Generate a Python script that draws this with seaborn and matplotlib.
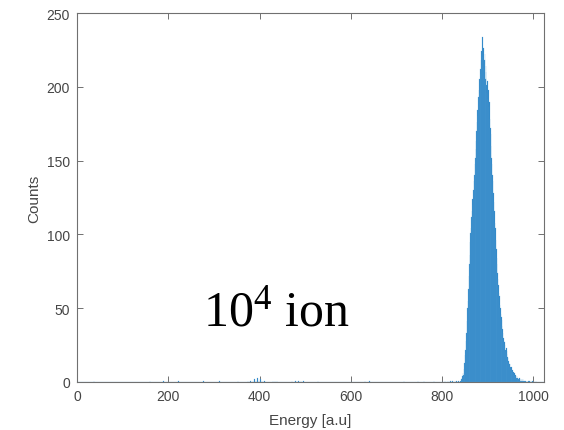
import numpy as np
import pandas as pd
import matplotlib
matplotlib.use("Agg")
import matplotlib.pyplot as plt
import seaborn as sns

# Main peak: counts per 1-unit energy bin, starting at energy 840
peak_start = 840
peak_counts = [
    1, 0, 2, 3, 4, 6, 5, 9, 13, 12,
    18, 22, 28, 33, 41, 50, 55, 63, 72, 80,
    86, 95, 101, 104, 112, 116, 124, 120, 130, 136,
    140, 148, 152, 163, 158, 170, 176, 184, 180, 193,
    198, 205, 196, 212, 218, 209, 224, 215, 234, 220,
    226, 212, 218, 222, 205, 214, 210, 201, 196, 204,
    192, 198, 186, 190, 178, 172, 168, 160, 152, 148,
    140, 136, 128, 122, 116, 108, 104, 96, 90, 84,
    80, 74, 70, 66, 60, 58, 52, 50, 46, 44,
    42, 38, 36, 33, 30, 28, 27, 25, 22, 21,
    23, 21, 19, 17, 16, 14, 13, 12, 12, 10,
    9, 10, 8, 7, 8, 6, 7, 5, 6, 4,
    5, 4, 3, 4, 3, 2, 3, 2, 2, 3,
    2, 1, 2, 1, 2, 1, 1, 2, 1, 1,
    1, 0, 1, 1, 0, 1, 0, 1, 0, 1,
    0, 1, 0, 0, 1, 0, 0, 1, 0, 0,
    0, 1, 0, 0, 0, 1, 0, 0, 0, 0,
]

# Sparse low-energy background events (energy bin, count)
bg_energy = [37, 160, 189, 222, 277, 312, 352, 374, 380, 385, 388, 392, 395,
             398, 402, 405, 410, 429, 433, 438, 470, 478, 485, 490, 496, 527,
             630, 640, 716, 747, 760, 782, 806, 812, 818, 822, 827, 831, 835]
bg_counts = [1, 1, 1, 1, 1, 1, 1, 1, 1, 1, 2, 1, 3,
             1, 2, 1, 1, 1, 1, 1, 1, 1, 1, 1, 1, 1,
             1, 1, 1, 1, 1, 1, 1, 1, 1, 1, 1, 1, 1]

x_ticks = [0, 200, 400, 600, 800, 1000]
y_ticks = [0, 50, 100, 150, 200, 250]

peak_energy = list(range(peak_start, peak_start + len(peak_counts)))
df = pd.DataFrame({
    "energy": [e + 0.5 for e in bg_energy + peak_energy],
    "counts": bg_counts + peak_counts,
})

sns.set_style("white")
plt.rcParams["font.family"] = ["Liberation Sans", "DejaVu Sans"]
plt.rcParams["mathtext.fontset"] = "custom"
plt.rcParams["mathtext.rm"] = "Liberation Serif"

fig = plt.figure(figsize=(5.64, 4.31), dpi=100)
ax = fig.add_axes([0.1365, 0.1114, 0.8280, 0.8561])

sns.histplot(data=df, x="energy", weights="counts", binwidth=1, binrange=(0, 1024),
             color="#2a84c6", alpha=1.0, linewidth=0.15, edgecolor="#5aa2d8", ax=ax)

ax.set_xlim(0, 1023)
ax.set_ylim(0, 250)
ax.set_xticks(x_ticks)
ax.set_yticks(y_ticks)
ax.set_xlabel("Energy [a.u]", fontsize=11, color="#454545", labelpad=7)
ax.set_ylabel("Counts", fontsize=11, color="#454545", labelpad=4)

for s in ax.spines.values():
    s.set_visible(True)
    s.set_color("#707070")
    s.set_linewidth(0.8)
ax.tick_params(direction="in", length=4.5, width=0.7, color="#707070",
               labelcolor="#454545", labelsize=10, top=True, right=True,
               bottom=True, left=True, labeltop=False, labelright=False)
ax.tick_params(axis="x", pad=5)
ax.tick_params(axis="y", pad=5)
ax.grid(False)

ax.text(276, 39, r"$\mathrm{10^4}$ ion", fontsize=36,
        family="Liberation Serif", color="black", ha="left", va="baseline")

fig.savefig("out.png", dpi=100)
